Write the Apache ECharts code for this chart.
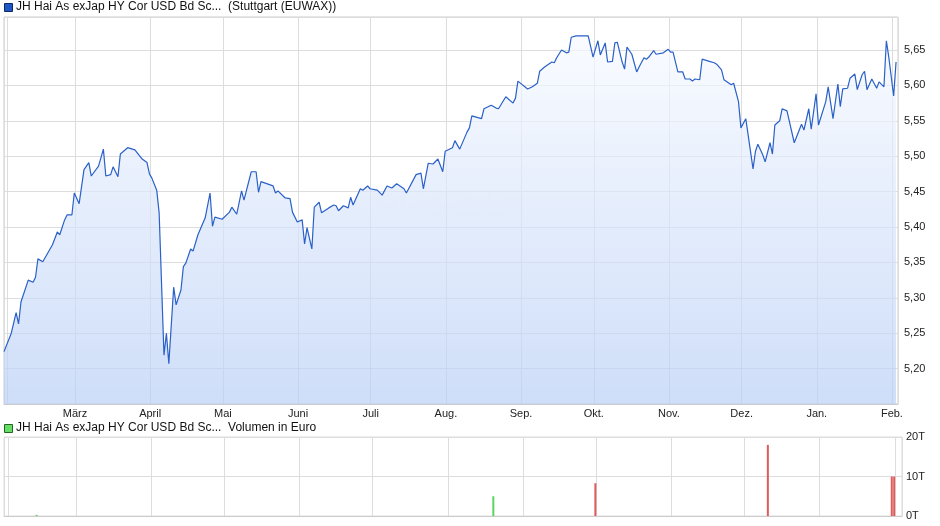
<!DOCTYPE html>
<html lang="de">
<head>
<meta charset="UTF-8">
<script src="https://cdn.jsdelivr.net/npm/echarts@6/dist/echarts.min.js"></script>
<style>
html, body { margin: 0; padding: 0; background: #fff; }
#chart { width: 940px; height: 526px; }
</style>
</head>
<body>
<div id="chart"></div>
<script>
// Tage seit Ende Jan. 2025 und Kurs
var startDate = Date.UTC(2025, 0, 30, 17);
var priceDays = [0,3,5,6,7,10,12,13,14,16,18,20,22,23,25,26,28,29,31,33,35,36,39,41,42,44,45,47,48,51,54,57,59,60,61,63,64,66,67,68,70,71,73,74,75,77,78,80,83,85,86,87,90,93,94,96,98,99,102,104,105,106,111,112,113,116,118,119,121,123,124,125,127,128,130,131,134,136,137,138,140,142,143,144,147,148,150,151,154,156,158,160,162,165,166,170,172,173,175,177,179,181,182,185,186,188,191,192,
  193,197,198,201,203,204,207,210,211,212,216,218,220,221,223,226,227,228,230,232,233,234,236,241,243,245,246,248,249,251,252,253,255,256,257,259,261,262,264,265,266,268,269,272,274,275,276,278,280,281,283,284,285,287,288,291,293,294,296,297,300,301,303,304,306,309,310,311,313,314,316,317,318,320,321,323,326,329,330,332,333,335,336,339,340,342,344,345,346,348,349,351,352,354,355,356,358,360,361,363,364,365,367,368];
var priceValues = [5.224,5.250,5.279,5.263,5.294,5.325,5.322,5.329,5.355,5.351,5.363,5.375,5.393,5.389,5.410,5.417,5.417,5.448,5.433,5.481,5.491,5.472,5.486,5.510,5.472,5.474,5.485,5.471,5.503,5.512,5.509,5.496,5.491,5.475,5.469,5.452,5.420,5.219,5.250,5.207,5.315,5.290,5.311,5.344,5.349,5.369,5.366,5.389,5.413,5.448,5.401,5.414,5.411,5.421,5.428,5.418,5.451,5.438,5.478,5.478,5.449,5.464,5.458,5.448,5.451,5.441,5.440,5.421,5.407,5.410,5.376,5.399,5.369,5.428,5.435,5.420,5.427,5.431,5.430,5.423,5.430,5.427,5.442,5.431,5.454,5.452,5.458,5.454,5.452,5.445,5.458,5.455,5.461,5.454,5.448,5.474,5.476,5.454,5.490,5.489,5.496,5.478,5.507,5.512,5.522,5.510,5.534,5.540,
  5.557,5.553,5.567,5.572,5.568,5.567,5.584,5.575,5.582,5.606,5.595,5.598,5.603,5.620,5.626,5.633,5.632,5.639,5.650,5.646,5.647,5.668,5.670,5.670,5.640,5.663,5.643,5.660,5.633,5.634,5.660,5.661,5.633,5.623,5.654,5.644,5.619,5.626,5.639,5.637,5.640,5.649,5.644,5.646,5.651,5.647,5.647,5.619,5.619,5.609,5.609,5.606,5.609,5.608,5.637,5.634,5.632,5.630,5.622,5.608,5.601,5.603,5.577,5.540,5.553,5.482,5.507,5.517,5.502,5.492,5.519,5.503,5.544,5.550,5.567,5.564,5.519,5.545,5.537,5.567,5.538,5.588,5.544,5.577,5.598,5.553,5.602,5.570,5.595,5.596,5.610,5.616,5.594,5.615,5.620,5.594,5.609,5.596,5.605,5.598,5.663,5.640,5.585,5.633];
// Volumen in Tausend Euro
var volDays = [13, 201, 243, 314, 365, 366];
var volValues = [0.3, 5, 8.3, 18, 10, 10];
var volUp = [true, true, false, false, false, false];
var monthNames = ['Jan.','Feb.','März','April','Mai','Juni','Juli','Aug.','Sep.','Okt.','Nov.','Dez.'];

var DAY = 86400000;
var xMin = startDate, xMax = startDate + 368.8 * DAY;
var priceData = priceDays.map(function (d, i) { return [startDate + d * DAY, priceValues[i]]; });
var volData = volDays.map(function (d, i) {
    return { value: [startDate + d * DAY, volValues[i]], itemStyle: { color: volUp[i] ? '#5fd35f' : '#e05a5a' } };
});

var font = 'Liberation Sans, Arial, sans-serif';
var chart = echarts.init(document.getElementById('chart'));

var xBase = {
    type: 'time', min: xMin, max: xMax, splitNumber: 12,
    axisLine: { lineStyle: { color: '#ccc' } },
    axisTick: { show: false },
    splitLine: { show: true, lineStyle: { color: '#ddd' } }
};

var option = {
    animation: false,
    grid: [
        { left: 4, right: 42, top: 17, height: 387, show: true, borderColor: '#ccc', borderWidth: 1, outerBoundsMode: 'none', containLabel: false },
        { left: 4, right: 38, top: 437, height: 79, show: true, borderColor: '#ddd', borderWidth: 1, outerBoundsMode: 'none', containLabel: false }
    ],
    xAxis: [
        Object.assign({}, xBase, {
            gridIndex: 0,
            axisLabel: {
                color: '#222', fontSize: 11, fontFamily: font, margin: 4,
                formatter: function (v) {
                    if (v <= xMin + 3 * DAY) return '';
                    return monthNames[new Date(v).getUTCMonth()];
                }
            }
        }),
        Object.assign({}, xBase, { gridIndex: 1, axisLabel: { show: false } })
    ],
    yAxis: [
        {
            gridIndex: 0, type: 'value', position: 'right', min: 5.15, max: 5.6966, interval: 0.05,
            axisLine: { show: false }, axisTick: { show: false },
            splitLine: { lineStyle: { color: '#ddd' } },
            axisLabel: {
                showMinLabel: false, showMaxLabel: false, color: '#222', fontSize: 11, fontFamily: font, margin: 6,
                formatter: function (v) { return v.toFixed(2).replace('.', ','); }
            }
        },
        {
            gridIndex: 1, type: 'value', position: 'right', min: 0, max: 20, interval: 10,
            axisLine: { show: false }, axisTick: { show: false },
            splitLine: { lineStyle: { color: '#ddd' } },
            axisLabel: { color: '#222', fontSize: 11, fontFamily: font, margin: 4,
                formatter: function (v) { return v + 'T'; } }
        }
    ],
    graphic: [
        { type: 'rect', left: 4, top: 3, shape: { width: 8, height: 8 }, style: { fill: '#1f56c4', stroke: '#0d2a66', lineWidth: 1 } },
        { type: 'text', left: 16, top: 1, style: { text: 'JH Hai As exJap HY Cor USD Bd Sc...  (Stuttgart (EUWAX))', fill: '#111', font: '12px ' + font } },
        { type: 'rect', left: 4, top: 424, shape: { width: 8, height: 8 }, style: { fill: '#66dd66', stroke: '#226622', lineWidth: 1 } },
        { type: 'text', left: 16, top: 422, style: { text: 'JH Hai As exJap HY Cor USD Bd Sc...  Volumen in Euro', fill: '#111', font: '12px ' + font } },
        { type: 'rect', left: 376, top: 190, z: 0, shape: { width: 148, height: 27, r: 6 }, style: { fill: 'rgba(255,255,255,0.25)' } },
        { type: 'text', left: 384, top: 189, z: 0, style: { text: 'ARIVA.DE', fill: 'rgba(255,255,255,0.55)', font: 'italic bold 26px ' + font } }
    ],
    series: [
        {
            type: 'line', xAxisIndex: 0, yAxisIndex: 0, data: priceData,
            symbol: 'none', z: 3,
            lineStyle: { color: '#2a60c8', width: 1.2 },
            areaStyle: {
                origin: 'start',
                color: new echarts.graphic.LinearGradient(0, 0, 0, 1, [
                    { offset: 0, color: '#f6f9ff' },
                    { offset: 1, color: '#b9cff5' }
                ])
            }
        },
        {
            type: 'bar', xAxisIndex: 1, yAxisIndex: 1, data: volData, barWidth: 2
        }
    ]
};
chart.setOption(option);
</script>
</body>
</html>
